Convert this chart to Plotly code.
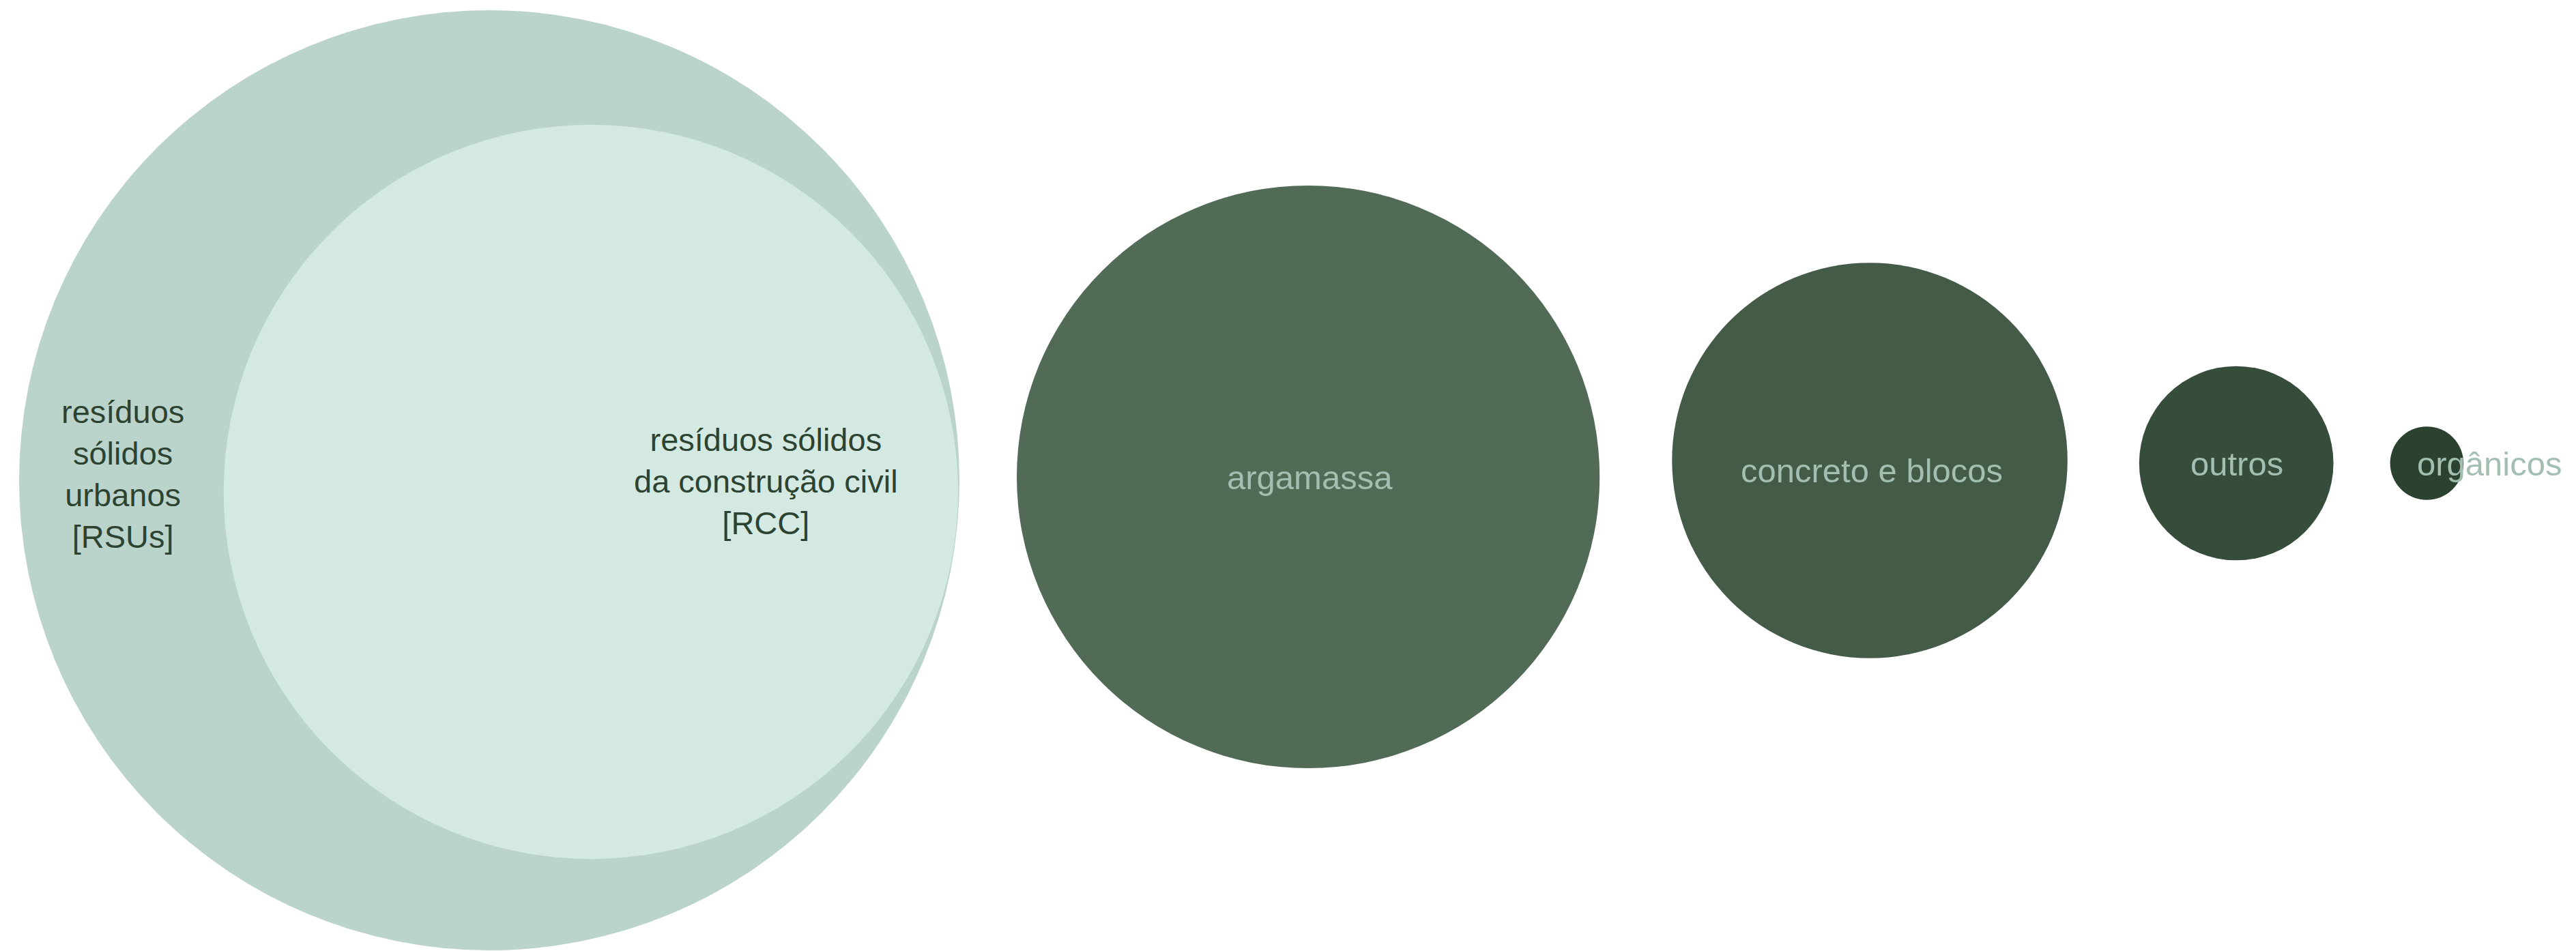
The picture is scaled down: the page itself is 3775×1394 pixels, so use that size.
import math
import plotly.graph_objects as go

# ---------------- data ----------------
categories = [
    "resíduos sólidos urbanos [RSUs]",
    "resíduos sólidos da construção civil [RCC]",
    "argamassa",
    "concreto e blocos",
    "outros",
    "orgânicos",
]
label_lines = [
    "resíduos<br>sólidos<br>urbanos<br>[RSUs]",
    "resíduos sólidos<br>da construção civil<br>[RCC]",
    "argamassa",
    "concreto e blocos",
    "outros",
    "orgânicos",
]
rsu_share = 100.0                 # RSU total (reference = 100)
rcc_share = 61.0                  # RCC as % of RSU
rcc_composition = [63.0, 29.0, 7.0, 1.0]   # % of RCC: argamassa, concreto e blocos, outros, orgânicos

values = [rsu_share, rcc_share] + [rcc_share * c / 100.0 for c in rcc_composition]

# ---------------- layout / style ----------------
W, H = 3775, 1394
max_radius_px = 689.0
sizeref = 2.0 * max(values) / (2 * max_radius_px) ** 2

def radius(v):
    return math.sqrt(v / 2.0 / sizeref)

colors = ["#BBD4CB", "#D3E9E2", "#526B56", "#445B48", "#364D3C", "#2C4231"]

rsu_left = 28
rsu_cy = 704
rcc_cy = 721
comp_gaps = [84, 106, 105, 83]
comp_cy = [699, 675, 679, 679]

r = [radius(v) for v in values]
xs = [rsu_left + r[0]]
ys = [rsu_cy]
# RCC circle sits inside RSU, tangent on the right side
xs.append(xs[0] + r[0] - r[1] - 2)
ys.append(rcc_cy)
edge = xs[0] + r[0]
for i, g in enumerate(comp_gaps):
    ri = r[2 + i]
    cx = edge + g + ri
    xs.append(cx)
    ys.append(comp_cy[i])
    edge = cx + ri

fig = go.Figure()
fig.add_trace(go.Scatter(
    x=xs, y=ys, mode="markers",
    marker=dict(size=values, sizemode="area", sizeref=sizeref,
                color=colors, opacity=1, line=dict(width=0)),
    hoverinfo="text", hovertext=categories, showlegend=False,
    cliponaxis=False,
))

dark = "#2D4332"
light = "#A3BFB2"
font_family = "Liberation Sans, Arial, Helvetica, sans-serif"

label_pos = [
    (180, 695), (1122, 705), (1919, 700), (2743, 690), (3278, 680), (3648, 680)
]
for i, txt in enumerate(label_lines):
    is_dark = i < 2
    fig.add_annotation(
        x=label_pos[i][0], y=label_pos[i][1], xref="x", yref="y",
        text=txt, showarrow=False, align="center",
        xanchor="center", yanchor="middle",
        font=dict(family=font_family,
                  size=47 if is_dark else 49,
                  color=dark if is_dark else light),
    )

fig.update_layout(
    width=W, height=H,
    margin=dict(l=0, r=0, t=0, b=0),
    paper_bgcolor="white", plot_bgcolor="white",
    xaxis=dict(range=[0, W], visible=False, fixedrange=True),
    yaxis=dict(range=[H, 0], visible=False, fixedrange=True),
    showlegend=False,
)

fig.write_html(
    "out.html",
    config={"displayModeBar": False},
    post_script="document.body.style.margin='0';document.body.style.overflow='hidden';",
)
